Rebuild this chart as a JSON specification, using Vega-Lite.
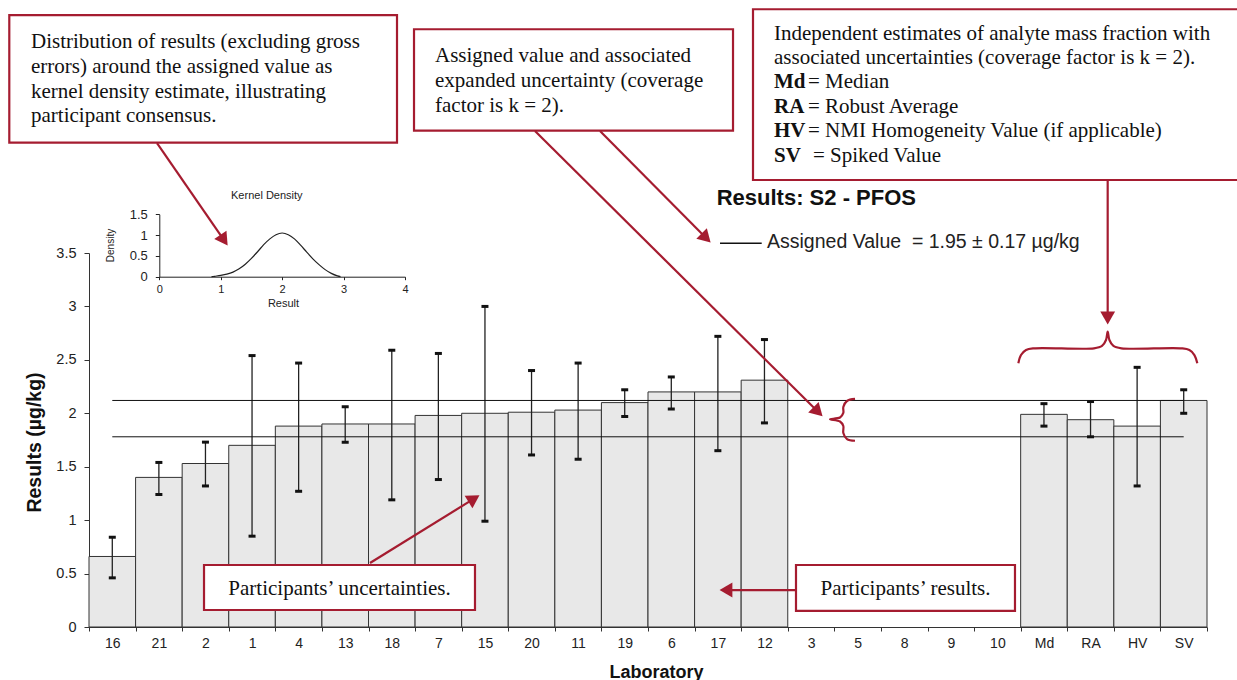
{
  "$schema": "https://vega.github.io/schema/vega-lite/v6.json",
  "width": 1118,
  "height": 374,
  "autosize": {"type": "none"},
  "padding": {"left": 89, "top": 253, "right": 30, "bottom": 53},
  "background": "white",
  "config": {"view": {"stroke": null}, "font": "Liberation Sans"},
  "datasets": {
    "results": [
      {"lab": "16", "value": 0.66, "lo": 0.46, "hi": 0.84},
      {"lab": "21", "value": 1.40, "lo": 1.24, "hi": 1.54},
      {"lab": "2", "value": 1.53, "lo": 1.32, "hi": 1.73},
      {"lab": "1", "value": 1.70, "lo": 0.85, "hi": 2.54},
      {"lab": "4", "value": 1.88, "lo": 1.27, "hi": 2.47},
      {"lab": "13", "value": 1.90, "lo": 1.73, "hi": 2.06},
      {"lab": "18", "value": 1.90, "lo": 1.19, "hi": 2.59},
      {"lab": "7", "value": 1.98, "lo": 1.38, "hi": 2.56},
      {"lab": "15", "value": 2.00, "lo": 0.99, "hi": 3.00},
      {"lab": "20", "value": 2.01, "lo": 1.61, "hi": 2.40},
      {"lab": "11", "value": 2.03, "lo": 1.57, "hi": 2.47},
      {"lab": "19", "value": 2.10, "lo": 1.97, "hi": 2.22},
      {"lab": "6", "value": 2.20, "lo": 2.04, "hi": 2.34},
      {"lab": "17", "value": 2.20, "lo": 1.65, "hi": 2.72},
      {"lab": "12", "value": 2.31, "lo": 1.91, "hi": 2.69},
      {"lab": "Md", "value": 1.99, "lo": 1.88, "hi": 2.09},
      {"lab": "RA", "value": 1.94, "lo": 1.78, "hi": 2.11},
      {"lab": "HV", "value": 1.88, "lo": 1.32, "hi": 2.43},
      {"lab": "SV", "value": 2.12, "lo": 2.00, "hi": 2.22}
    ],
    "ref": [
      {"lab": "16", "y": 2.12, "k": "upper"},
      {"lab": "SV", "y": 2.12, "k": "upper"},
      {"lab": "16", "y": 1.78, "k": "lower"},
      {"lab": "SV", "y": 1.78, "k": "lower"}
    ],
    "kde": [
      {"r": 0.85, "d": 0}, {"r": 0.9, "d": 0.01}, {"r": 1.0, "d": 0.03}, {"r": 1.1, "d": 0.06},
      {"r": 1.2, "d": 0.11}, {"r": 1.3, "d": 0.19}, {"r": 1.4, "d": 0.30}, {"r": 1.5, "d": 0.44},
      {"r": 1.6, "d": 0.60}, {"r": 1.7, "d": 0.77}, {"r": 1.8, "d": 0.91}, {"r": 1.9, "d": 1.01},
      {"r": 2.0, "d": 1.05}, {"r": 2.1, "d": 1.01}, {"r": 2.2, "d": 0.91}, {"r": 2.3, "d": 0.76},
      {"r": 2.4, "d": 0.59}, {"r": 2.5, "d": 0.43}, {"r": 2.6, "d": 0.29}, {"r": 2.7, "d": 0.17},
      {"r": 2.8, "d": 0.08}, {"r": 2.9, "d": 0.02}, {"r": 2.95, "d": 0}
    ],
    "boxes": [
      {"u": -1.711, "u2": 6.612, "y": 5.727, "y2": 4.532},
      {"u": 6.977, "u2": 13.825, "y": 5.594, "y2": 4.645},
      {"u": 14.254, "u2": 24.9, "y": 5.781, "y2": 4.183},
      {"u": 2.469, "u2": 8.286, "y": 0.580, "y2": 0.159},
      {"u": 15.177, "u2": 19.878, "y": 0.580, "y2": 0.150}
    ],
    "arrows": [
      {"id": "a1", "i": 0, "u": 1.460, "y": 4.529}, {"id": "a1", "i": 1, "u": 2.898, "y": 3.620},
      {"id": "a2", "i": 0, "u": 9.574, "y": 4.642}, {"id": "a2", "i": 1, "u": 15.649, "y": 2.014},
      {"id": "a3", "i": 0, "u": 10.970, "y": 4.642}, {"id": "a3", "i": 1, "u": 13.247, "y": 3.640},
      {"id": "a4", "i": 0, "u": 21.868, "y": 4.183}, {"id": "a4", "i": 1, "u": 21.868, "y": 2.892},
      {"id": "a5", "i": 0, "u": 6.032, "y": 0.599}, {"id": "a5", "i": 1, "u": 8.265, "y": 1.201},
      {"id": "a6", "i": 0, "u": 15.177, "y": 0.346}, {"id": "a6", "i": 1, "u": 13.674, "y": 0.346}
    ],
    "heads": [
      {"u": 2.898, "y": 3.620, "a": 145.4},
      {"u": 15.649, "y": 2.014, "a": 134.8},
      {"u": 13.247, "y": 3.640, "a": 135.3},
      {"u": 21.868, "y": 2.892, "a": 180},
      {"u": 8.265, "y": 1.201, "a": 58.3},
      {"u": 13.674, "y": 0.346, "a": 270}
    ],
    "braces": [
      {"id": "h", "i": 0, "u": 19.950, "y": 2.468},
      {"id": "h", "i": 1, "u": 20.007, "y": 2.545},
      {"id": "h", "i": 2, "u": 20.115, "y": 2.592},
      {"id": "h", "i": 3, "u": 20.286, "y": 2.608},
      {"id": "h", "i": 4, "u": 21.574, "y": 2.608},
      {"id": "h", "i": 5, "u": 21.746, "y": 2.630},
      {"id": "h", "i": 6, "u": 21.832, "y": 2.686},
      {"id": "h", "i": 7, "u": 21.868, "y": 2.764},
      {"id": "h", "i": 8, "u": 21.905, "y": 2.686},
      {"id": "h", "i": 9, "u": 21.991, "y": 2.630},
      {"id": "h", "i": 10, "u": 22.163, "y": 2.608},
      {"id": "h", "i": 11, "u": 23.451, "y": 2.608},
      {"id": "h", "i": 12, "u": 23.622, "y": 2.592},
      {"id": "h", "i": 13, "u": 23.730, "y": 2.545},
      {"id": "h", "i": 14, "u": 23.792, "y": 2.468},
      {"id": "v", "i": 0, "u": 16.444, "y": 2.134},
      {"id": "v", "i": 1, "u": 16.272, "y": 2.115},
      {"id": "v", "i": 2, "u": 16.193, "y": 2.059},
      {"id": "v", "i": 3, "u": 16.193, "y": 2.003},
      {"id": "v", "i": 4, "u": 16.122, "y": 1.961},
      {"id": "v", "i": 5, "u": 15.907, "y": 1.944},
      {"id": "v", "i": 6, "u": 16.122, "y": 1.923},
      {"id": "v", "i": 7, "u": 16.193, "y": 1.881},
      {"id": "v", "i": 8, "u": 16.193, "y": 1.816},
      {"id": "v", "i": 9, "u": 16.272, "y": 1.759},
      {"id": "v", "i": 10, "u": 16.444, "y": 1.743}
    ],
    "texts": [
      {"g": "left", "u": -1.245, "y": 5.419, "t": "Distribution of results (excluding gross"},
      {"g": "left", "u": -1.245, "y": 5.185, "t": "errors) around the assigned value as"},
      {"g": "left", "u": -1.245, "y": 4.951, "t": "kernel density estimate, illustrating"},
      {"g": "left", "u": -1.245, "y": 4.726, "t": "participant consensus."},
      {"g": "left", "u": 7.428, "y": 5.288, "t": "Assigned value and associated"},
      {"g": "left", "u": 7.428, "y": 5.054, "t": "expanded uncertainty (coverage"},
      {"g": "left", "u": 7.428, "y": 4.820, "t": "factor is k = 2)."},
      {"g": "left", "u": 14.705, "y": 5.493, "t": "Independent estimates of analyte mass fraction with"},
      {"g": "left", "u": 14.705, "y": 5.266, "t": "associated uncertainties (coverage factor is k = 2)."},
      {"g": "bold", "u": 14.705, "y": 5.041, "t": "Md"},
      {"g": "bold", "u": 14.705, "y": 4.807, "t": "RA"},
      {"g": "bold", "u": 14.705, "y": 4.583, "t": "HV"},
      {"g": "bold", "u": 14.705, "y": 4.354, "t": "SV"},
      {"g": "left", "u": 15.435, "y": 5.041, "t": "= Median"},
      {"g": "left", "u": 15.435, "y": 4.807, "t": "= Robust Average"},
      {"g": "left", "u": 15.435, "y": 4.583, "t": "= NMI Homogeneity Value (if applicable)"},
      {"g": "left", "u": 15.542, "y": 4.354, "t": "= Spiked Value"},
      {"g": "center", "u": 5.378, "y": 0.299, "t": "Participants’ uncertainties."},
      {"g": "center", "u": 17.528, "y": 0.299, "t": "Participants’ results."}
    ]
  },
  "layer": [
    {
      "data": {"name": "results"},
      "layer": [
        {
          "mark": {"type": "bar", "fill": "#e8e8e8", "stroke": "#333333", "strokeWidth": 1},
          "encoding": {
            "x": {
              "field": "lab", "type": "nominal", "sort": null,
              "scale": {"domain": ["16","21","2","1","4","13","18","7","15","20","11","19","6","17","12","3","5","8","9","10","Md","RA","HV","SV"], "paddingInner": 0, "paddingOuter": 0},
              "axis": {
                "orient": "bottom", "title": "Laboratory", "titleFontSize": 18, "titleFontWeight": "bold", "titleColor": "#111111",
                "titleX": 567, "titleY": 50, "titleBaseline": "alphabetic", "titleAlign": "center",
                "labelFontSize": 14, "labelColor": "#222222", "labelPadding": 5, "labelAngle": 0,
                "tickSize": 4, "tickColor": "#333333", "domainColor": "#333333", "tickBand": "extent", "grid": false
              }
            },
            "y": {
              "field": "value", "type": "quantitative",
              "scale": {"domain": [0, 3.5], "nice": false, "zero": true},
              "axis": {
                "orient": "left", "title": "Results (µg/kg)", "titleFontSize": 19.5, "titleFontWeight": "bold", "titleColor": "#111111",
                "titleX": -55, "titleY": 189, "titleAngle": -90, "titleBaseline": "middle", "titleAlign": "center",
                "values": [0, 0.5, 1, 1.5, 2, 2.5, 3, 3.5], "format": "~g", "labelFontSize": 14.5, "labelColor": "#222222",
                "labelPadding": 8, "tickSize": 5, "grid": false, "domainColor": "#333333", "tickColor": "#333333", "labelFlush": false
              }
            }
          }
        },
        {
          "mark": {"type": "rule", "color": "#222222", "strokeWidth": 1.3},
          "encoding": {
            "x": {"field": "lab", "type": "nominal"},
            "y": {"field": "lo", "type": "quantitative"},
            "y2": {"field": "hi"}
          }
        },
        {
          "mark": {"type": "tick", "color": "#111111", "thickness": 3, "size": 7, "opacity": 1},
          "encoding": {
            "x": {"field": "lab", "type": "nominal"},
            "y": {"field": "lo", "type": "quantitative"}
          }
        },
        {
          "mark": {"type": "tick", "color": "#111111", "thickness": 3, "size": 7, "opacity": 1},
          "encoding": {
            "x": {"field": "lab", "type": "nominal"},
            "y": {"field": "hi", "type": "quantitative"}
          }
        },
        {
          "data": {"name": "ref"},
          "mark": {"type": "line", "color": "#111111", "strokeWidth": 1},
          "encoding": {
            "x": {"field": "lab", "type": "nominal"},
            "y": {"field": "y", "type": "quantitative"},
            "detail": {"field": "k"}
          }
        }
      ]
    },
    {
      "data": {"name": "kde"},
      "layer": [
        {
          "mark": {"type": "line", "color": "#222222", "strokeWidth": 1.2, "interpolate": "monotone"},
          "encoding": {
            "x": {
              "field": "r", "type": "quantitative",
              "scale": {"domain": [0, 4], "range": [70.3, 316], "nice": false, "zero": false},
              "axis": {
                "orient": "bottom", "offset": -350.3, "values": [0, 1, 2, 3, 4], "format": "~g", "domain": true, "domainColor": "#222222", "grid": false,
                "tickSize": 3, "tickColor": "#222222", "labelFontSize": 11, "labelColor": "#222222", "labelPadding": 4, "labelFlush": false,
                "title": "Result", "titleFontSize": 11, "titleFontWeight": "normal", "titleColor": "#222222",
                "titleX": 194, "titleY": 29.3, "titleBaseline": "alphabetic", "titleAlign": "center"
              }
            },
            "y": {
              "field": "d", "type": "quantitative",
              "scale": {"domain": [0, 1.5], "range": [23.7, -38.7], "nice": false, "zero": false},
              "axis": {
                "orient": "left", "offset": -70.3, "values": [0, 0.5, 1, 1.5], "format": "~g", "domain": true, "domainColor": "#222222", "grid": false,
                "tickSize": 4, "tickColor": "#222222", "labelFontSize": 13, "labelColor": "#222222", "labelPadding": 8, "labelFlush": false,
                "title": "Density", "titleFontSize": 10, "titleFontWeight": "normal", "titleColor": "#222222",
                "titleX": -49.3, "titleY": -8, "titleAngle": -90, "titleBaseline": "middle", "titleAlign": "center"
              }
            }
          }
        },
        {
          "data": {"values": [{"r": 1.75, "d": 1.861, "t": "Kernel Density"}]},
          "mark": {"type": "text", "fontSize": 11, "color": "#222222", "baseline": "alphabetic", "align": "center"},
          "encoding": {
            "x": {"field": "r", "type": "quantitative"},
            "y": {"field": "d", "type": "quantitative"},
            "text": {"field": "t"}
          }
        }
      ]
    },
    {
      "encoding": {
        "x": {"field": "u", "type": "quantitative", "scale": {"domain": [0, 24], "nice": false, "zero": false}, "axis": null},
        "y": {"field": "y", "type": "quantitative", "scale": {"domain": [0, 3.5], "nice": false, "zero": false}, "axis": null}
      },
      "layer": [
        {
          "data": {"name": "boxes"},
          "mark": {"type": "rect", "fill": "white", "stroke": "#a51c30", "strokeWidth": 2.2},
          "encoding": {"x2": {"field": "u2"}, "y2": {"field": "y2"}}
        },
        {
          "data": {"name": "arrows"},
          "mark": {"type": "line", "color": "#a51c30", "strokeWidth": 2.2},
          "encoding": {"detail": {"field": "id"}, "order": {"field": "i"}}
        },
        {
          "data": {"name": "heads"},
          "mark": {"type": "point", "shape": "triangle-up", "filled": true, "color": "#a51c30", "size": 220, "opacity": 1},
          "encoding": {"angle": {"field": "a", "type": "quantitative", "scale": null}}
        },
        {
          "data": {"name": "braces"},
          "mark": {"type": "line", "color": "#a51c30", "strokeWidth": 2.2, "interpolate": "catmull-rom"},
          "encoding": {"detail": {"field": "id"}, "order": {"field": "i"}}
        },
        {
          "data": {"name": "texts"},
          "transform": [{"filter": "datum.g === 'left'"}],
          "mark": {"type": "text", "font": "Liberation Serif", "fontSize": 21, "color": "#111111", "align": "left", "baseline": "alphabetic"},
          "encoding": {"text": {"field": "t"}}
        },
        {
          "data": {"name": "texts"},
          "transform": [{"filter": "datum.g === 'bold'"}],
          "mark": {"type": "text", "font": "Liberation Serif", "fontSize": 21, "fontWeight": "bold", "color": "#111111", "align": "left", "baseline": "alphabetic"},
          "encoding": {"text": {"field": "t"}}
        },
        {
          "data": {"name": "texts"},
          "transform": [{"filter": "datum.g === 'center'"}],
          "mark": {"type": "text", "font": "Liberation Serif", "fontSize": 21, "color": "#111111", "align": "center", "baseline": "alphabetic"},
          "encoding": {"text": {"field": "t"}}
        },
        {
          "data": {"values": [{"u": 13.475, "y": 3.949, "t": "Results: S2 - PFOS"}]},
          "mark": {"type": "text", "fontSize": 22, "fontWeight": "bold", "color": "#111111", "align": "left", "baseline": "alphabetic"},
          "encoding": {"text": {"field": "t"}}
        },
        {
          "data": {"values": [{"u": 13.546, "u2": 14.441, "y": 3.591}]},
          "mark": {"type": "rule", "color": "#111111", "strokeWidth": 1.5},
          "encoding": {"x2": {"field": "u2"}}
        },
        {
          "data": {"values": [{"u": 14.555, "y": 3.547, "t": "Assigned Value\u00a0 = 1.95 ± 0.17 µg/kg"}]},
          "mark": {"type": "text", "fontSize": 19.5, "color": "#222222", "align": "left", "baseline": "alphabetic"},
          "encoding": {"text": {"field": "t"}}
        }
      ]
    }
  ],
  "resolve": {
    "scale": {"x": "independent", "y": "independent"},
    "axis": {"x": "independent", "y": "independent"}
  }
}
